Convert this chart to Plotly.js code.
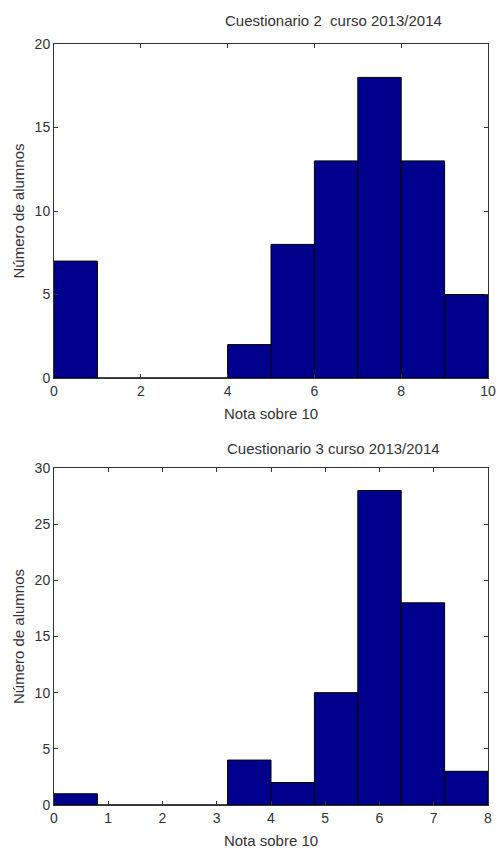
<!DOCTYPE html>
<html><head><meta charset="utf-8">
<script src="https://cdn.plot.ly/plotly-3.0.1.min.js"></script>
<style>html,body{margin:0;padding:0;background:#fff}</style>
</head><body>
<div id="chart" style="width:497px;height:853px"></div>
<script>
// Cuestionario 2: bins (left edge, width) and counts
const c2BinStart = [0, 1, 2, 3, 4, 5, 6, 7, 8, 9];
const c2BinWidth = [1, 1, 1, 1, 1, 1, 1, 1, 1, 1];
const c2Counts = [7, 0, 0, 0, 2, 8, 13, 18, 13, 5];
const c2XTicks = [0, 2, 4, 6, 8, 10];
const c2YTicks = [0, 5, 10, 15, 20];

// Cuestionario 3
const c3BinStart = [0, 0.8, 1.6, 2.4, 3.2, 4.0, 4.8, 5.6, 6.4, 7.2];
const c3BinWidth = [0.8, 0.8, 0.8, 0.8, 0.8, 0.8, 0.8, 0.8, 0.8, 0.8];
const c3Counts = [1, 0, 0, 0, 4, 2, 10, 28, 18, 3];
const c3XTicks = [0, 1, 2, 3, 4, 5, 6, 7, 8];
const c3YTicks = [0, 5, 10, 15, 20, 25, 30];

const titles = ["Cuestionario 2  curso 2013/2014", "Cuestionario 3 curso 2013/2014"];
const xTitle = "Nota sobre 10";
const yTitle = "Número de alumnos";

const barColor = "rgb(0,0,140)";
const font = {family: "Liberation Sans, Arial, sans-serif", size: 14, color: "#333"};
const titleFont = {family: "Liberation Sans, Arial, sans-serif", size: 15, color: "#333"};

function barTrace(starts, widths, counts, xa, ya) {
  return {
    type: "bar",
    x: starts.map((s, i) => s + widths[i] / 2),
    y: counts,
    width: widths,
    marker: {color: barColor, line: {color: "#000", width: 1}},
    xaxis: xa, yaxis: ya,
    hoverinfo: "x+y"
  };
}

function axisX(range, ticks, domain, anchor) {
  return {
    domain: domain, anchor: anchor, range: range,
    tickmode: "array", tickvals: ticks, ticktext: ticks.map(String),
    ticks: "inside", ticklen: 4, tickcolor: "#333", mirror: "ticks",
    showline: true, linecolor: "#333", linewidth: 1,
    showgrid: false, zeroline: false, fixedrange: true,
    tickfont: font,
    title: {text: xTitle, font: titleFont, standoff: 10}
  };
}
function axisY(range, ticks, domain, anchor) {
  return {
    domain: domain, anchor: anchor, range: range,
    tickmode: "array", tickvals: ticks, ticktext: ticks.map(String),
    ticks: "inside", ticklen: 4, tickcolor: "#333", mirror: "ticks",
    showline: true, linecolor: "#333", linewidth: 1,
    showgrid: false, zeroline: false, fixedrange: true,
    tickfont: font,
    title: {text: yTitle, font: titleFont, standoff: 6}
  };
}

const xDom = [54 / 497, 488 / 497];
const topDom = [1 - 378 / 853, 1 - 44 / 853];
const botDom = [1 - 805 / 853, 1 - 468 / 853];

const data = [
  barTrace(c2BinStart, c2BinWidth, c2Counts, "x", "y"),
  barTrace(c3BinStart, c3BinWidth, c3Counts, "x2", "y2")
];

const layout = {
  width: 497, height: 853,
  margin: {l: 0, r: 0, t: 0, b: 0},
  paper_bgcolor: "#fff", plot_bgcolor: "#fff",
  showlegend: false, bargap: 0,
  font: font,
  xaxis: axisX([0, 10], c2XTicks, xDom, "y"),
  yaxis: axisY([0, 20], c2YTicks, topDom, "x"),
  xaxis2: axisX([0, 8], c3XTicks, xDom, "y2"),
  yaxis2: axisY([0, 30], c3YTicks, botDom, "x2"),
  annotations: [
    {text: titles[0], xref: "paper", yref: "paper", x: 333 / 497, y: 1 - 20 / 853,
     xanchor: "center", yanchor: "middle", showarrow: false, font: titleFont},
    {text: titles[1], xref: "paper", yref: "paper", x: 333 / 497, y: 1 - 449 / 853,
     xanchor: "center", yanchor: "middle", showarrow: false, font: titleFont}
  ]
};

Plotly.newPlot("chart", data, layout, {displayModeBar: false, staticPlot: true});
</script>
</body></html>
